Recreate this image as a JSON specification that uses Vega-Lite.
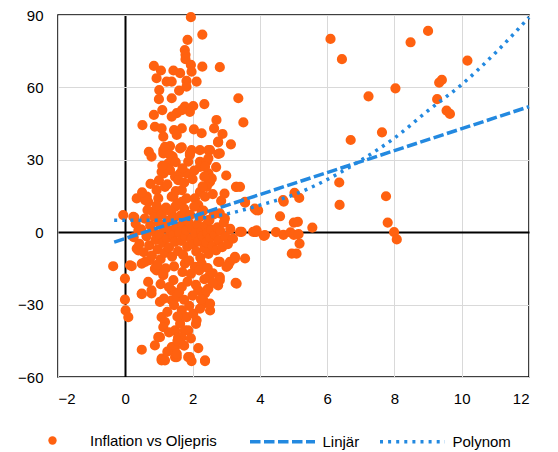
{
  "$schema": "https://vega.github.io/schema/vega-lite/v6.json",
  "width": 471,
  "height": 362,
  "autosize": {"type": "none"},
  "padding": {"left": 58, "top": 15, "right": 29, "bottom": 75},
  "background": "white",
  "config": {
    "font": "Liberation Sans",
    "view": {"stroke": "black", "strokeWidth": 1.5},
    "axis": {"labelFontSize": 15, "labelColor": "black", "domain": false, "ticks": false, "title": null,
      "gridColor": {"condition": {"test": "datum.value === 0", "value": "black"}, "value": "#d9d9d9"},
      "gridWidth": {"condition": {"test": "datum.value === 0", "value": 2}, "value": 1},
      "gridOpacity": 1},
    "legend": {"title": null, "orient": "none", "direction": "horizontal", "padding": 0, "labelFontSize": 15, "labelColor": "black"}
  },
  "datasets": {
    "scatter": [
      {"x":1.95,"y":89.1},{"x":2.29,"y":81.9},{"x":1.85,"y":79.7},{"x":1.77,"y":75.5},{"x":1.79,"y":73.5},{"x":1.79,"y":71.7},{"x":1.95,"y":69.3},{"x":1.97,"y":66.5},{"x":2.29,"y":68.6},{"x":2.81,"y":68.4},
      {"x":0.85,"y":68.9},{"x":1.06,"y":67.0},{"x":1.43,"y":67.0},{"x":1.63,"y":65.9},{"x":0.93,"y":63.8},{"x":1.23,"y":62.4},{"x":1.38,"y":62.4},{"x":1.82,"y":62.7},{"x":2.12,"y":62.4},{"x":1.01,"y":58.9},
      {"x":1.60,"y":58.7},{"x":1.82,"y":60.3},{"x":1.38,"y":55.5},{"x":1.00,"y":55.1},{"x":3.36,"y":55.5},{"x":2.35,"y":53.1},{"x":1.77,"y":52.0},{"x":2.02,"y":52.3},{"x":1.92,"y":49.9},{"x":1.10,"y":50.6},
      {"x":0.85,"y":48.6},{"x":1.53,"y":49.3},{"x":1.68,"y":50.6},{"x":1.38,"y":47.9},{"x":0.51,"y":44.4},{"x":0.88,"y":43.7},{"x":1.08,"y":43.0},{"x":1.45,"y":42.3},{"x":1.68,"y":43.0},{"x":2.04,"y":42.6},
      {"x":2.27,"y":41.0},{"x":2.71,"y":46.5},{"x":3.51,"y":45.5},{"x":2.64,"y":43.0},{"x":2.89,"y":40.7},{"x":1.13,"y":39.6},{"x":1.53,"y":40.3},{"x":1.33,"y":35.7},{"x":2.76,"y":37.2},{"x":3.14,"y":36.4},
      {"x":1.68,"y":35.2},{"x":0.70,"y":33.3},{"x":0.78,"y":31.3},{"x":1.13,"y":34.0},{"x":1.13,"y":32.7},{"x":1.92,"y":32.7},{"x":2.22,"y":34.0},{"x":2.52,"y":34.0},{"x":2.81,"y":32.7},{"x":1.41,"y":31.3},
      {"x":1.28,"y":28.5},{"x":1.87,"y":29.2},{"x":2.22,"y":29.2},{"x":2.42,"y":29.2},{"x":2.22,"y":27.1},{"x":1.14,"y":24.4},{"x":1.33,"y":25.7},{"x":1.53,"y":23.0},{"x":1.82,"y":24.4},{"x":2.47,"y":24.4},
      {"x":2.52,"y":20.9},{"x":3.31,"y":18.8},{"x":0.93,"y":17.4},{"x":1.18,"y":18.8},{"x":1.68,"y":17.4},{"x":2.22,"y":16.7},{"x":2.42,"y":18.8},{"x":0.34,"y":14.0},{"x":0.64,"y":14.7},{"x":1.43,"y":14.7},
      {"x":1.82,"y":14.0},{"x":1.18,"y":35.4},{"x":1.33,"y":32.0},{"x":1.08,"y":25.0},{"x":1.23,"y":26.4},{"x":1.48,"y":23.0},{"x":0.68,"y":12.6},{"x":0.98,"y":14.0},{"x":1.38,"y":14.7},{"x":0.83,"y":8.4},
      {"x":1.08,"y":9.1},{"x":1.48,"y":10.5},{"x":0.39,"y":0.8},{"x":0.34,"y":-6.8},{"x":-0.06,"y":7.1},{"x":0.27,"y":6.1},{"x":2.76,"y":37.5},{"x":1.63,"y":34.7},{"x":1.97,"y":34.0},{"x":2.47,"y":34.0},
      {"x":1.92,"y":32.0},{"x":2.76,"y":32.4},{"x":2.47,"y":30.6},{"x":2.37,"y":27.1},{"x":1.63,"y":24.4},{"x":1.57,"y":21.6},{"x":2.47,"y":20.2},{"x":2.57,"y":22.3},{"x":3.29,"y":18.8},{"x":2.07,"y":14.0},
      {"x":2.37,"y":14.7},{"x":3.56,"y":12.6},{"x":3.85,"y":9.8},{"x":1.68,"y":12.6},{"x":1.77,"y":6.4},{"x":2.17,"y":11.2},{"x":2.27,"y":8.4},{"x":2.81,"y":7.8},{"x":2.96,"y":5.7},{"x":2.47,"y":5.0},
      {"x":3.41,"y":0.1},{"x":3.80,"y":0.1},
      {"x":6.36,"y":20.6},{"x":7.75,"y":14.9},{"x":5.03,"y":16.3},{"x":5.17,"y":14.2},{"x":4.69,"y":13.3},{"x":4.71,"y":12.7},{"x":6.37,"y":11.3},{"x":4.60,"y":6.6},{"x":5.01,"y":4.0},{"x":5.13,"y":4.3},
      {"x":5.56,"y":1.9},{"x":7.80,"y":4.0},{"x":7.99,"y":0.0},{"x":8.07,"y":-3.0},{"x":4.48,"y":0.0},{"x":4.70,"y":-1.1},{"x":4.91,"y":-0.1},{"x":5.01,"y":-1.1},{"x":5.15,"y":-0.8},{"x":5.18,"y":-4.7},
      {"x":4.95,"y":-8.9},{"x":5.09,"y":-8.9},{"x":3.56,"y":12.2},{"x":3.95,"y":9.0},{"x":3.46,"y":0.1},{"x":3.90,"y":0.1},{"x":4.12,"y":-1.5},{"x":3.56,"y":-10.9},{"x":3.41,"y":18.8},
      {"x":6.10,"y":80.1},{"x":6.44,"y":71.7},{"x":8.48,"y":78.7},{"x":9.00,"y":83.4},{"x":10.17,"y":71.1},{"x":9.33,"y":62.0},{"x":9.41,"y":63.1},{"x":8.03,"y":59.6},{"x":7.23,"y":56.3},{"x":9.27,"y":55.1},
      {"x":9.55,"y":50.4},{"x":9.65,"y":49.0},{"x":7.63,"y":41.4},{"x":6.70,"y":38.2},
      {"x":-0.36,"y":-14.1},{"x":0.14,"y":-13.7},{"x":0.49,"y":-13.0},{"x":0.73,"y":-11.6},{"x":-0.01,"y":-19.2},{"x":0.68,"y":-20.6},{"x":0.93,"y":-15.8},{"x":1.13,"y":-17.8},{"x":0.49,"y":-25.4},{"x":0.78,"y":-25.4},
      {"x":-0.01,"y":-27.9},{"x":0.01,"y":-32.4},{"x":0.09,"y":-35.2},{"x":1.03,"y":-28.9},{"x":1.08,"y":-35.2},{"x":1.18,"y":-37.2},{"x":0.98,"y":-43.5},{"x":0.88,"y":-46.9},{"x":0.49,"y":-48.7},{"x":1.08,"y":-52.4},
      {"x":1.48,"y":-51.8},{"x":1.38,"y":-47.6},{"x":1.48,"y":-40.7},{"x":1.43,"y":-19.9},{"x":1.38,"y":-24.1},{"x":2.76,"y":-12.3},{"x":3.06,"y":-13.7},{"x":3.26,"y":-10.9},{"x":3.28,"y":-21.0},{"x":2.47,"y":-18.6},
      {"x":2.81,"y":-18.6},{"x":2.76,"y":-22.0},{"x":1.77,"y":-13.0},{"x":2.07,"y":-14.4},{"x":2.27,"y":-13.0},{"x":2.17,"y":-24.1},{"x":2.37,"y":-25.4},{"x":2.47,"y":-23.4},{"x":2.32,"y":-29.6},{"x":2.52,"y":-32.4},
      {"x":2.12,"y":-36.5},{"x":1.87,"y":-40.7},{"x":1.68,"y":-32.4},{"x":1.57,"y":-43.5},{"x":1.48,"y":-47.6},{"x":2.17,"y":-48.0},{"x":1.53,"y":-51.8},{"x":1.92,"y":-51.8},{"x":2.37,"y":-53.1},
      {"x":1.03,"y":-43.5},{"x":1.13,"y":-39.3},{"x":1.43,"y":-47.6},{"x":1.53,"y":-50.4},{"x":1.08,"y":-53.1},{"x":1.18,"y":-53.1},{"x":1.87,"y":-51.8},{"x":1.97,"y":-53.4},{"x":2.37,"y":-53.4},{"x":1.63,"y":-37.9},
      {"x":1.77,"y":-40.7},{"x":1.68,"y":-43.5},{"x":1.82,"y":-35.2},{"x":2.02,"y":-33.7},{"x":2.22,"y":-31.7},{"x":2.32,"y":-28.2},{"x":2.52,"y":-29.6},{"x":2.42,"y":-24.1},{"x":1.38,"y":-28.2},{"x":1.53,"y":-26.9},
      {"x":1.68,"y":-22.7},{"x":1.13,"y":-17.1},{"x":0.59,"y":-12.3},{"x":0.88,"y":-15.1},{"x":0.19,"y":-14.1},{"x":0.39,"y":-7.5},{"x":0.49,"y":-25.7},{"x":0.78,"y":-24.1},{"x":2.81,"y":-19.9},{"x":3.31,"y":-21.3},
      {"x":3.26,"y":-10.2},{"x":3.11,"y":-12.3},{"x":2.81,"y":-12.3},{"x":3.01,"y":-14.4},{"x":3.9,"y":0.8},{"x":4.15,"y":-1.2},{"x":3.9,"y":9.1},{"x":0.59,"y":13.3},{"x":0.24,"y":6.4},
      {"x":0.25,"y":-2.1},{"x":0.31,"y":3.5},{"x":0.42,"y":-4.8},{"x":0.47,"y":1.2},{"x":0.55,"y":-8.3},{"x":0.58,"y":5.6},{"x":0.63,"y":-1.7},{"x":0.66,"y":9.2},{"x":0.71,"y":-5.5},{"x":0.74,"y":2.8},
      {"x":0.79,"y":-9.7},{"x":0.82,"y":0.4},{"x":0.86,"y":6.3},{"x":0.9,"y":-3.2},{"x":0.93,"y":11.0},{"x":0.96,"y":-7.1},{"x":1.0,"y":3.9},{"x":1.02,"y":-0.9},{"x":1.05,"y":-11.2},{"x":1.09,"y":7.5},
      {"x":1.12,"y":-4.4},{"x":1.15,"y":1.8},{"x":1.18,"y":-8.6},{"x":1.21,"y":10.2},{"x":1.24,"y":-2.5},{"x":1.27,"y":4.7},{"x":1.3,"y":-6.3},{"x":1.33,"y":0.6},{"x":1.36,"y":8.4},{"x":1.39,"y":-10.1},
      {"x":1.42,"y":-1.3},{"x":1.45,"y":5.9},{"x":1.48,"y":-4.0},{"x":1.51,"y":2.2},{"x":1.54,"y":11.6},{"x":1.57,"y":-7.8},{"x":1.6,"y":-0.2},{"x":1.63,"y":6.8},{"x":1.66,"y":-3.6},{"x":1.69,"y":3.1},
      {"x":1.72,"y":-9.4},{"x":1.75,"y":9.7},{"x":1.78,"y":-1.9},{"x":1.81,"y":0.9},{"x":1.84,"y":-6.0},{"x":1.87,"y":4.3},{"x":1.9,"y":-11.8},{"x":1.93,"y":7.2},{"x":1.96,"y":-2.8},{"x":1.99,"y":1.5},
      {"x":2.02,"y":-5.1},{"x":2.05,"y":10.6},{"x":2.08,"y":-0.6},{"x":2.11,"y":-8.0},{"x":2.14,"y":3.3},{"x":2.17,"y":-3.9},{"x":2.2,"y":6.1},{"x":2.23,"y":-10.5},{"x":2.26,"y":0.2},{"x":2.29,"y":-1.6},
      {"x":2.32,"y":8.9},{"x":2.35,"y":-6.7},{"x":2.38,"y":2.6},{"x":2.41,"y":-4.2},{"x":2.44,"y":-0.3},{"x":2.47,"y":-9.0},{"x":2.5,"y":4.9},{"x":2.53,"y":-2.3},{"x":2.56,"y":1.1},{"x":2.6,"y":-5.8},
      {"x":2.63,"y":7.4},{"x":2.66,"y":-1.0},{"x":2.7,"y":-7.5},{"x":2.74,"y":2.0},{"x":2.78,"y":-3.4},{"x":2.83,"y":0.5},{"x":2.88,"y":-6.2},{"x":2.93,"y":4.1},{"x":2.98,"y":-1.8},{"x":3.05,"y":-4.9},
      {"x":3.12,"y":1.4},{"x":3.2,"y":-2.7},
      {"x":0.95,"y":-13.5},{"x":1.2,"y":-15.0},{"x":1.45,"y":-14.2},{"x":1.7,"y":-16.5},{"x":1.95,"y":-17.3},{"x":2.2,"y":-15.8},{"x":2.45,"y":-14.9},{"x":2.6,"y":-17.0},{"x":1.05,"y":-21.5},{"x":1.3,"y":-22.8},
      {"x":1.6,"y":-24.8},{"x":1.85,"y":-20.5},{"x":2.1,"y":-21.8},{"x":2.35,"y":-19.5},{"x":2.6,"y":-21.0},{"x":1.15,"y":-27.5},{"x":1.45,"y":-30.2},{"x":1.75,"y":-28.0},{"x":2.0,"y":-26.3},{"x":2.25,"y":-27.8},
      {"x":1.25,"y":-33.0},{"x":1.55,"y":-35.0},{"x":1.9,"y":-30.5},{"x":2.1,"y":-38.0},{"x":1.3,"y":-41.5},{"x":1.55,"y":-45.0},{"x":1.75,"y":-47.0},{"x":1.95,"y":-44.0},{"x":1.25,"y":-49.5},
      {"x":0.5,"y":16.5},{"x":0.75,"y":20.0},{"x":1.0,"y":21.5},{"x":1.25,"y":19.8},{"x":1.5,"y":17.0},{"x":1.75,"y":20.5},{"x":2.0,"y":22.0},{"x":2.3,"y":19.0},{"x":2.6,"y":15.8},{"x":2.85,"y":13.0},
      {"x":1.1,"y":27.5},{"x":1.5,"y":29.0},{"x":1.7,"y":26.5},{"x":2.05,"y":25.5},{"x":2.35,"y":23.0},{"x":2.7,"y":27.0},{"x":3.0,"y":23.5},{"x":2.95,"y":16.0}
    ],
    "linjar": [{"x": -0.33, "y": -4.1}, {"x": 12, "y": 52.0}],
    "polynom": [
      {"x": -0.33, "y": 5.0}, {"x": 0, "y": 5.0}, {"x": 1, "y": 4.9}, {"x": 2, "y": 5.5}, {"x": 3, "y": 7.5},
      {"x": 4, "y": 11.2}, {"x": 5, "y": 15.5}, {"x": 6, "y": 21.8}, {"x": 7, "y": 29.8}, {"x": 8, "y": 39.0},
      {"x": 9, "y": 50.4}, {"x": 10, "y": 61.2}, {"x": 11, "y": 74.3}, {"x": 12, "y": 89.0}
    ]
  },
  "encoding": {
    "x": {"field": "x", "type": "quantitative", "scale": {"domain": [-2, 12], "nice": false, "zero": false},
      "axis": {"values": [-2, 0, 2, 4, 6, 8, 10, 12], "labelPadding": 14}},
    "y": {"field": "y", "type": "quantitative", "scale": {"domain": [-60, 90], "nice": false, "zero": false},
      "axis": {"values": [-60, -30, 0, 30, 60, 90], "labelPadding": 15}}
  },
  "layer": [
    {
      "data": {"name": "scatter"},
      "mark": {"type": "point", "filled": true, "shape": "circle", "size": 104, "opacity": 1},
      "encoding": {
        "color": {"datum": "Inflation vs Oljepris", "type": "nominal",
          "scale": {"domain": ["Inflation vs Oljepris"], "range": ["#ff6110"]},
          "legend": {"legendX": -13, "legendY": 418, "symbolType": "circle", "symbolSize": 70, "symbolOpacity": 1, "labelOffset": 30}}
      }
    },
    {
      "data": {"name": "linjar"},
      "mark": {"type": "line", "strokeWidth": 3.5, "color": "#2389e0", "strokeCap": "butt"},
      "encoding": {
        "strokeDash": {"datum": "Linjär", "type": "nominal",
          "scale": {"domain": ["Linjär", "Polynom"], "range": [[10.5, 3.5], [3, 5.1]]},
          "legend": {"legendX": 190, "legendY": 392, "symbolType": "stroke", "symbolSize": 4225, "symbolStrokeWidth": 3.5, "symbolStrokeColor": "#2389e0", "labelOffset": 5.5, "columnPadding": 13}}
      }
    },
    {
      "data": {"name": "polynom"},
      "mark": {"type": "line", "strokeWidth": 3.5, "color": "#2389e0", "strokeCap": "butt", "interpolate": "monotone"},
      "encoding": {"strokeDash": {"datum": "Polynom", "type": "nominal"}}
    }
  ]
}
